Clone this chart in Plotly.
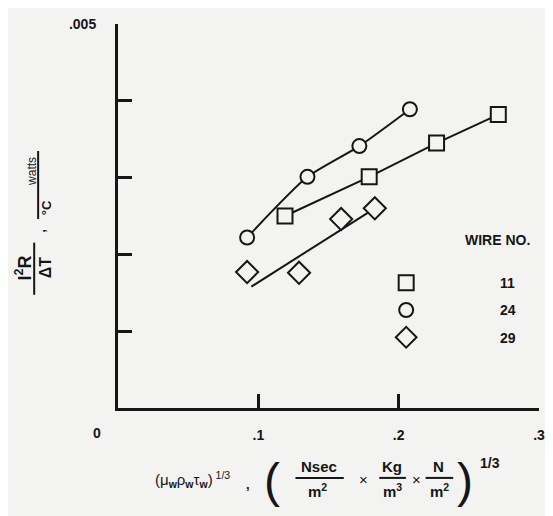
import plotly.graph_objects as go

# ---- data ----
wire11_x = [0.119, 0.179, 0.227, 0.271]
wire11_y = [0.00250, 0.00301, 0.00345, 0.00382]
wire24_x = [0.092, 0.135, 0.172, 0.208]
wire24_y = [0.00222, 0.00301, 0.00341, 0.00389]
wire29_x = [0.092, 0.129, 0.159, 0.183]
wire29_y = [0.00177, 0.00176, 0.00246, 0.00260]
fit29_x = [0.095, 0.183]
fit29_y = [0.00158, 0.00260]
x_ticks = [0.1, 0.2, 0.3]
x_ticklabels = ["<b>.1</b>", "<b>.2</b>", "<b>.3</b>"]
y_ticks = [0.001, 0.002, 0.003, 0.004, 0.005]
y_ticklabels = ["", "", "", "", "<b>.005</b>"]

# page has an 8px body margin, so the figure is drawn 8px smaller and all
# page-pixel positions below are converted with that offset
OFF = 8
W, H = 553 - OFF, 516 - OFF
PL, PR, PT, PB = 118, 545, 18, 408          # plot area in page pixels
L, T = PL - OFF, PT - OFF
R, B = W - (PR - OFF), H - (PB - OFF)
BG = "#f3f3f1"
INK = "#161616"
FONT = "Liberation Sans"

def px(x):
    return (x - PL) / (PR - PL)

def py(y):
    return (PB - y) / (PB - PT)

fig = go.Figure()
# fitted curves
fig.add_trace(go.Scatter(x=wire24_x, y=wire24_y, mode="lines", line=dict(color=INK, width=2, shape="spline", smoothing=0.6), showlegend=False, hoverinfo="skip"))
fig.add_trace(go.Scatter(x=wire11_x, y=wire11_y, mode="lines", line=dict(color=INK, width=2), showlegend=False, hoverinfo="skip"))
fig.add_trace(go.Scatter(x=fit29_x, y=fit29_y, mode="lines", line=dict(color=INK, width=2), showlegend=False, hoverinfo="skip"))
# data markers
mk = dict(color=BG, line=dict(color=INK, width=2))
pad = "\u00a0" * 19
fig.add_trace(go.Scatter(x=wire11_x, y=wire11_y, mode="markers", name=pad + "<b>11</b>", legendgroup="a",
                         marker=dict(symbol="square", size=15, **mk)))
fig.add_trace(go.Scatter(x=wire24_x, y=wire24_y, mode="markers", name=pad + "<b>24</b>", legendgroup="b",
                         marker=dict(symbol="circle", size=14, **mk)))
fig.add_trace(go.Scatter(x=wire29_x, y=wire29_y, mode="markers", name=pad + "<b>29</b>", legendgroup="c",
                         marker=dict(symbol="diamond", size=17, **mk)))

ann = []
def A(x, y, text, size=13, angle=0, bold=True, xanchor="center", yanchor="middle"):
    ann.append(dict(xref="paper", yref="paper", x=px(x), y=py(y), text=("<b>%s</b>" % text) if bold else text,
                    showarrow=False, textangle=angle, xanchor=xanchor, yanchor=yanchor,
                    font=dict(family=FONT, size=size, color=INK)))

A(97, 433, "0", 14)
A(503, 237, "WIRE NO.", 14)
# y-axis title
A(22, 266, "I<sup>2</sup>R", 18, -90)
A(44, 265, "ΔT", 16, -90)
A(40, 228, ",", 13, -90)
A(30, 168, "watts", 12, -90, bold=False)
A(45, 205, "°C", 13, -90)
# x-axis title
A(194, 481, "(μ<sub><b>w</b></sub>ρ<sub><b>w</b></sub>τ<sub><b>w</b></sub>)<sup> 1/3</sup>", 15, bold=False)
A(250, 486, ",", 13)
A(274, 482, "(", 48, bold=False)
A(322, 467, "Nsec", 15)
A(320, 492, "m<sup>2</sup>", 15)
A(367, 481, "×", 15, bold=False)
A(396, 467, "Kg", 15)
A(396, 492, "m<sup>3</sup>", 15)
A(421, 481, "×", 15, bold=False)
A(443, 467, "N", 15)
A(444, 492, "m<sup>2</sup>", 15)
A(470, 482, ")", 48, bold=False)
A(495, 464, "1/3", 14)

shapes = []
def hline(x0, x1, y):
    shapes.append(dict(type="line", xref="paper", yref="paper", x0=px(x0), x1=px(x1), y0=py(y), y1=py(y), line=dict(color=INK, width=2)))
def vline(x, y0, y1):
    shapes.append(dict(type="line", xref="paper", yref="paper", x0=px(x), x1=px(x), y0=py(y0), y1=py(y1), line=dict(color=INK, width=2)))
hline(298, 347, 479)
hline(383, 410, 479)
hline(430, 458, 479)
vline(33, 240, 293)
vline(37, 147, 216)

fig.update_layout(
    width=W, height=H,
    margin=dict(l=L, r=R, t=T, b=B),
    paper_bgcolor=BG, plot_bgcolor=BG,
    font=dict(family=FONT, size=13, color=INK),
    annotations=ann, shapes=shapes,
    legend=dict(x=px(390), y=py(265), xanchor="left", yanchor="top", bgcolor="rgba(0,0,0,0)",
                font=dict(family=FONT, size=14, color=INK), itemwidth=30, tracegroupgap=6,
                traceorder="grouped"),
    xaxis=dict(range=[0, 0.3], showgrid=False, zeroline=False, showline=True, linecolor=INK, linewidth=3,
               ticks="inside", ticklen=14, tickwidth=3, tickcolor=INK, tickvals=x_ticks, ticktext=x_ticklabels,
               tickfont=dict(family=FONT, size=14, color=INK), ticklabelstandoff=12),
    yaxis=dict(range=[0, 0.005], showgrid=False, zeroline=False, showline=True, linecolor=INK, linewidth=3,
               ticks="inside", ticklen=14, tickwidth=3, tickcolor=INK, tickvals=y_ticks, ticktext=y_ticklabels,
               tickfont=dict(family=FONT, size=14, color=INK), ticklabelstandoff=16),
)
fig.write_html("out.html")
